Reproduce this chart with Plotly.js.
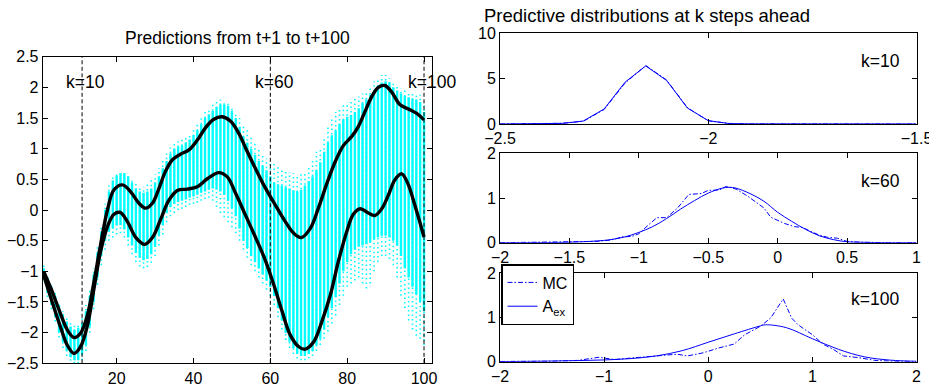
<!DOCTYPE html>
<html><head><meta charset="utf-8">
<script src="https://cdn.plot.ly/plotly-3.0.1.min.js"></script>
<style>html,body{margin:0;padding:0;background:#fff;}#chart{width:929px;height:385px;}</style>
</head><body><div id="chart"></div>
<script>
// ---------- Left panel: predictions from t+1 to t+100 ----------
const steps = [1,2,3,4,5,6,7,8,9,10,11,12,13,14,15,16,17,18,19,20,21,22,23,24,25,26,27,28,29,30,31,32,33,34,35,36,37,38,39,40,41,42,43,44,45,46,47,48,49,50,51,52,53,54,55,56,57,58,59,60,61,62,63,64,65,66,67,68,69,70,71,72,73,74,75,76,77,78,79,80,81,82,83,84,85,86,87,88,89,90,91,92,93,94,95,96,97,98,99,100];
const cyanHi = [-0.95,-1.1,-1.25,-1.4,-1.55,-1.7,-1.82,-1.9,-1.95,-1.92,
 -1.85,-1.65,-1.4,-1.05,-0.7,-0.35,0.0,0.3,0.48,0.56,
 0.6,0.6,0.55,0.45,0.35,0.3,0.28,0.3,0.35,0.45,
 0.55,0.68,0.8,0.92,1.0,1.03,1.05,1.1,1.15,1.22,
 1.3,1.4,1.5,1.56,1.62,1.68,1.72,1.72,1.7,1.62,
 1.5,1.35,1.2,1.1,1.0,0.9,0.8,0.72,0.65,0.55,
 0.45,0.42,0.4,0.37,0.35,0.32,0.3,0.33,0.4,0.47,
 0.55,0.65,0.78,0.95,1.1,1.22,1.3,1.4,1.48,1.52,
 1.55,1.6,1.66,1.74,1.8,1.88,1.95,2.02,2.08,2.1,
 2.08,2.0,1.95,1.9,1.86,1.84,1.82,1.8,1.76,1.6];
const cyanLo = [-1.1,-1.35,-1.55,-1.75,-2.0,-2.15,-2.3,-2.4,-2.45,-2.45,
 -2.35,-2.2,-1.9,-1.5,-1.1,-0.75,-0.5,-0.35,-0.3,-0.25,
 -0.25,-0.32,-0.45,-0.58,-0.7,-0.78,-0.82,-0.8,-0.72,-0.6,
 -0.42,-0.25,-0.05,0.05,0.1,0.13,0.15,0.17,0.2,0.22,
 0.25,0.28,0.3,0.33,0.35,0.33,0.3,0.25,0.15,0.03,
 -0.1,-0.3,-0.5,-0.62,-0.75,-0.85,-0.95,-1.05,-1.15,-1.25,
 -1.4,-1.6,-1.8,-2.0,-2.15,-2.25,-2.35,-2.38,-2.38,-2.35,
 -2.3,-2.2,-2.1,-1.95,-1.75,-1.6,-1.42,-1.2,-1.0,-0.85,
 -0.72,-0.65,-0.6,-0.58,-0.56,-0.52,-0.48,-0.45,-0.42,-0.42,
 -0.45,-0.5,-0.58,-0.75,-0.95,-1.1,-1.25,-1.38,-1.5,-1.65];
const dotHi = [-0.9,-1.05,-1.2,-1.35,-1.5,-1.65,-1.75,-1.82,-1.88,-1.85,
 -1.75,-1.55,-1.3,-0.95,-0.6,-0.25,0.1,0.4,0.55,0.62,
 0.65,0.65,0.6,0.52,0.45,0.4,0.38,0.42,0.5,0.58,
 0.68,0.8,0.92,1.02,1.08,1.12,1.15,1.2,1.25,1.32,
 1.42,1.52,1.6,1.66,1.72,1.78,1.8,1.78,1.75,1.68,
 1.6,1.5,1.4,1.3,1.22,1.1,1.0,0.9,0.84,0.8,
 0.75,0.72,0.68,0.65,0.62,0.6,0.58,0.6,0.62,0.7,
 0.85,0.95,1.0,1.2,1.35,1.5,1.6,1.68,1.72,1.76,
 1.8,1.82,1.85,1.9,1.95,2.02,2.1,2.15,2.2,2.2,
 2.15,2.08,2.02,1.98,1.96,1.94,1.92,1.9,1.88,1.7];
const dotLo = [-1.15,-1.42,-1.62,-1.82,-2.08,-2.25,-2.38,-2.46,-2.5,-2.5,
 -2.45,-2.3,-2.0,-1.62,-1.22,-0.9,-0.65,-0.5,-0.45,-0.4,
 -0.38,-0.45,-0.58,-0.72,-0.85,-0.92,-0.95,-0.93,-0.86,-0.75,
 -0.58,-0.4,-0.2,-0.1,-0.05,0.0,0.02,0.05,0.08,0.1,
 0.12,0.15,0.18,0.2,0.15,0.05,-0.05,-0.12,-0.2,-0.28,
 -0.38,-0.5,-0.65,-0.78,-0.9,-1.0,-1.1,-1.2,-1.3,-1.4,
 -1.55,-1.75,-1.95,-2.12,-2.25,-2.35,-2.42,-2.45,-2.45,-2.42,
 -2.38,-2.3,-2.2,-2.1,-1.98,-1.85,-1.72,-1.55,-1.4,-1.25,
 -1.2,-1.15,-1.1,-1.2,-1.28,-1.2,-1.0,-0.85,-0.75,-0.75,
 -0.8,-0.9,-1.1,-1.4,-1.6,-1.8,-1.95,-2.05,-2.1,-2.2];
const upperT = [1,2.9,5.5,7.2,8.9,10.6,12.4,14.1,15.8,17.6,19.3,21.5,23.6,25.8,27.5,29.3,31.0,32.7,34.5,36.6,38.8,41.0,43.1,45.3,47.5,49.6,51.8,53.5,56.1,58.7,61.3,63.9,66.1,68.1,70.4,72.5,74.7,76.9,79.0,81.2,82.9,84.6,86.4,88.1,89.8,91.5,93.7,95.8,98.0,100];
const upperV = [-1.0,-1.28,-1.71,-1.96,-2.08,-2.01,-1.71,-1.17,-0.57,0.0,0.33,0.41,0.30,0.11,0.03,0.11,0.35,0.63,0.82,0.91,0.98,1.14,1.34,1.48,1.52,1.45,1.25,1.02,0.68,0.36,0.08,-0.19,-0.38,-0.45,-0.30,0.03,0.43,0.79,1.05,1.20,1.36,1.60,1.85,2.00,2.03,1.93,1.72,1.65,1.58,1.47];
const lowerT = [1,2.9,5.5,7.2,8.9,10.6,12.4,14.1,15.8,17.6,19.3,20.9,22.8,25.0,27.3,29.3,31.4,33.6,35.8,38.4,41.0,43.6,46.6,48.8,50.9,53.5,56.1,58.7,60.9,63.1,65.2,67.4,69.1,71.3,73.4,75.6,77.7,79.9,81.6,83.4,85.5,87.2,89.0,90.7,92.4,94.2,95.8,97.6,100];
const lowerV = [-1.06,-1.44,-1.93,-2.21,-2.34,-2.23,-1.88,-1.28,-0.68,-0.27,-0.07,-0.04,-0.19,-0.45,-0.56,-0.45,-0.16,0.16,0.32,0.34,0.38,0.51,0.61,0.54,0.28,-0.08,-0.44,-0.82,-1.22,-1.66,-2.04,-2.23,-2.27,-2.15,-1.82,-1.39,-0.84,-0.35,-0.07,0.02,-0.05,-0.09,0.02,0.24,0.49,0.59,0.43,0.08,-0.44];
const kMarks = [11, 60, 100];
const kLabels = ['k=10', 'k=60', 'k=100'];
const leftXTicks = [20, 40, 60, 80, 100];
const leftYTicks = [-2.5,-2,-1.5,-1,-0.5,0,0.5,1,1.5,2,2.5];
const leftYText = ['\u22122.5','\u22122','\u22121.5','\u22121','\u22120.5','0','0.5','1','1.5','2','2.5'];

// ---------- Right panels: predictive distributions ----------
const k10X = [-2.5,-2.45,-2.4,-2.35,-2.3,-2.25,-2.2,-2.15,-2.1,-2.05,-2.0,-1.95,-1.9,-1.85,-1.8,-1.75,-1.7,-1.65,-1.6,-1.55,-1.5];
const k10Aex = [0,0,0.01,0.07,0.33,1.65,4.6,6.4,4.8,1.76,0.37,0.05,0.01,0,0,0,0,0,0,0,0];
const k10MC  = [0,0,0.01,0.08,0.3,1.6,4.5,6.45,4.85,1.8,0.35,0.06,0.01,0,0,0,0,0,0,0,0];
const k60AexX = [-2,-1.5,-1.3,-1.2,-1.1,-1.0,-0.9,-0.8,-0.7,-0.6,-0.5,-0.4,-0.35,-0.3,-0.2,-0.1,0,0.1,0.2,0.3,0.4,0.5,0.6,0.8,1.0];
const k60Aex  = [0,0.01,0.04,0.07,0.13,0.23,0.36,0.54,0.75,0.94,1.11,1.22,1.24,1.22,1.10,0.93,0.68,0.48,0.30,0.155,0.07,0.02,0.01,0,0];
const k60MCX = [-2,-1.5,-1.3,-1.2,-1.12,-1.05,-1.0,-0.93,-0.87,-0.8,-0.72,-0.64,-0.55,-0.5,-0.42,-0.37,-0.3,-0.22,-0.15,-0.1,-0.05,0.0,0.05,0.12,0.18,0.24,0.3,0.36,0.43,0.5,0.6,0.8,1.0];
const k60MC  = [0,0.01,0.03,0.06,0.13,0.14,0.2,0.4,0.56,0.56,0.78,1.08,1.1,1.17,1.18,1.26,1.2,1.05,0.88,0.78,0.57,0.5,0.43,0.36,0.34,0.25,0.17,0.12,0.1,0.03,0.01,0,0];
const k100AexX = [-2,-1.75,-1.5,-1.25,-1.0,-0.75,-0.5,-0.25,0,0.25,0.5,0.55,0.75,1.0,1.25,1.5,1.75,2.0];
const k100Aex  = [0.003,0.008,0.015,0.025,0.04,0.07,0.13,0.25,0.44,0.63,0.81,0.835,0.77,0.52,0.28,0.11,0.035,0.01];
const k100MCX = [-2,-1.5,-1.25,-1.05,-0.9,-0.7,-0.5,-0.3,-0.2,-0.05,0.1,0.25,0.35,0.42,0.5,0.6,0.72,0.8,0.86,1.0,1.1,1.2,1.3,1.45,1.6,1.8,2.0];
const k100MC  = [0.005,0.01,0.03,0.1,0.05,0.09,0.13,0.17,0.13,0.2,0.31,0.40,0.61,0.69,0.8,0.99,1.42,0.99,0.84,0.61,0.40,0.28,0.13,0.09,0.03,0.01,0.005];
const seriesNames = ['MC', 'A<sub>ex</sub>'];

// ---------- build traces ----------
const W = 929, H = 385;
const FONT = 'Liberation Sans, Arial, Helvetica, sans-serif';
function segs(xs, lo, hi) {
  const x = [], y = [];
  for (let i = 0; i < xs.length; i++) { x.push(xs[i], xs[i], null); y.push(lo[i], hi[i], null); }
  return {x, y};
}
const yLim = [-2.5, 2.5];
const dotSeg = segs(steps, dotLo, dotHi);
const solSeg = segs(steps, cyanLo, cyanHi);
const kx = [], ky = [];
kMarks.forEach(k => { kx.push(k, k, null); ky.push(yLim[0], yLim[1], null); });

const blue = '#0000ff';
const mcDash = '5px,2px,1.5px,2px';
const traces = [
  {x: dotSeg.x, y: dotSeg.y, mode: 'lines', line: {color: '#00ffff', width: 1.6, dash: '1.5px,3px'}, showlegend: false, hoverinfo: 'skip'},
  {x: solSeg.x, y: solSeg.y, mode: 'lines', line: {color: '#00ffff', width: 2.4}, showlegend: false, hoverinfo: 'skip'},
  {x: kx, y: ky, mode: 'lines', line: {color: '#000', width: 1, dash: '4px,2.5px'}, showlegend: false},
  {x: upperT, y: upperV, mode: 'lines', line: {color: '#000', width: 3.4, shape: 'spline'}, showlegend: false},
  {x: lowerT, y: lowerV, mode: 'lines', line: {color: '#000', width: 3.4, shape: 'spline'}, showlegend: false},
  // k=10
  {x: k10X, y: k10MC, xaxis: 'x2', yaxis: 'y2', mode: 'lines', line: {color: blue, width: 1, dash: mcDash}, showlegend: false},
  {x: k10X, y: k10Aex, xaxis: 'x2', yaxis: 'y2', mode: 'lines', line: {color: blue, width: 1}, showlegend: false},
  // k=60
  {x: k60MCX, y: k60MC, xaxis: 'x3', yaxis: 'y3', mode: 'lines', line: {color: blue, width: 1, dash: mcDash}, showlegend: false},
  {x: k60AexX, y: k60Aex, xaxis: 'x3', yaxis: 'y3', mode: 'lines', line: {color: blue, width: 1, shape: 'spline'}, showlegend: false},
  // k=100
  {x: k100MCX, y: k100MC, xaxis: 'x4', yaxis: 'y4', mode: 'lines', name: seriesNames[0], line: {color: blue, width: 1, dash: mcDash}, showlegend: true},
  {x: k100AexX, y: k100Aex, xaxis: 'x4', yaxis: 'y4', mode: 'lines', name: seriesNames[1], line: {color: blue, width: 1, shape: 'spline'}, showlegend: true}
];

function ax(extra) {
  return Object.assign({
    showline: true, linecolor: '#000', linewidth: 1, mirror: 'ticks',
    ticks: 'inside', ticklen: 5, tickwidth: 1, tickcolor: '#000',
    showgrid: false, zeroline: false, fixedrange: true, ticklabeloverflow: 'allow',
    tickfont: {family: FONT, size: 16, color: '#000'}
  }, extra);
}
const fmt = v => (v < 0 ? '\u2212' : '') + String(Math.abs(v));
function tk(vals) { return {tickmode: 'array', tickvals: vals, ticktext: vals.map(fmt)}; }

const px = v => v / W, py = v => 1 - v / H;
const L = {x0: 42.7, x1: 431.7, y0: 56.7, y1: 363.3};
const R = {x0: 500, x1: 916.5};
const R1 = {y0: 33.3, y1: 124}, R2 = {y0: 153.3, y1: 242.7}, R3 = {y0: 273.3, y1: 361.7};

const layout = {
  width: W, height: H, margin: {l: 0, r: 0, t: 0, b: 0},
  paper_bgcolor: '#fff', plot_bgcolor: '#fff',
  font: {family: FONT, color: '#000', size: 16},
  xaxis: ax(Object.assign({domain: [px(L.x0), px(L.x1)], range: [0.75, 102], anchor: 'y'}, tk(leftXTicks))),
  yaxis: ax({domain: [py(L.y1), py(L.y0)], range: yLim, anchor: 'x', tickmode: 'array', tickvals: leftYTicks, ticktext: leftYText}),
  xaxis2: ax(Object.assign({domain: [px(R.x0), px(R.x1)], range: [-2.5, -1.5], anchor: 'y2'}, tk([-2.5, -2, -1.5]))),
  yaxis2: ax(Object.assign({domain: [py(R1.y1), py(R1.y0)], range: [0, 10], anchor: 'x2'}, tk([0, 5, 10]))),
  xaxis3: ax(Object.assign({domain: [px(R.x0), px(R.x1)], range: [-2, 1], anchor: 'y3'}, tk([-2, -1.5, -1, -0.5, 0, 0.5, 1]))),
  yaxis3: ax(Object.assign({domain: [py(R2.y1), py(R2.y0)], range: [0, 2], anchor: 'x3'}, tk([0, 1, 2]))),
  xaxis4: ax(Object.assign({domain: [px(R.x0), px(R.x1)], range: [-2, 2], anchor: 'y4'}, tk([-2, -1, 0, 1, 2]))),
  yaxis4: ax(Object.assign({domain: [py(R3.y1), py(R3.y0)], range: [0, 2], anchor: 'x4'}, tk([0, 1, 2]))),
  showlegend: true,
  legend: {x: px(501), y: py(264), xanchor: 'left', yanchor: 'top', bgcolor: '#fff',
    bordercolor: '#000', borderwidth: 1.5, font: {family: FONT, size: 16, color: '#000'},
    itemwidth: 30, tracegroupgap: 0},
  annotations: [
    {text: 'Predictions from t+1 to t+100', xref: 'paper', yref: 'paper', x: px((L.x0 + L.x1) / 2), y: py(38.3),
      xanchor: 'center', yanchor: 'middle', showarrow: false, font: {family: FONT, size: 17.5}},
    {text: 'Predictive distributions at k steps ahead', xref: 'paper', yref: 'paper', x: px(481.7), y: py(15.3),
      xanchor: 'left', yanchor: 'middle', showarrow: false, font: {family: FONT, size: 18.5}},
    ...kMarks.map((k, i) => ({text: kLabels[i], xref: 'x', yref: 'y', x: k - 4.6, y: 2.08,
      xanchor: 'left', yanchor: 'middle', showarrow: false, font: {family: FONT, size: 17.5}})),
    {text: kLabels[0], xref: 'x2 domain', yref: 'y2 domain', x: 0.965, y: 0.69, xanchor: 'right', yanchor: 'middle', showarrow: false, font: {family: FONT, size: 17.5}},
    {text: kLabels[1], xref: 'x3 domain', yref: 'y3 domain', x: 0.965, y: 0.69, xanchor: 'right', yanchor: 'middle', showarrow: false, font: {family: FONT, size: 17.5}},
    {text: kLabels[2], xref: 'x4 domain', yref: 'y4 domain', x: 0.962, y: 0.705, xanchor: 'right', yanchor: 'middle', showarrow: false, font: {family: FONT, size: 17.5}}
  ]
};
Plotly.newPlot('chart', traces, layout, {staticPlot: true, displayModeBar: false});
</script></body></html>
